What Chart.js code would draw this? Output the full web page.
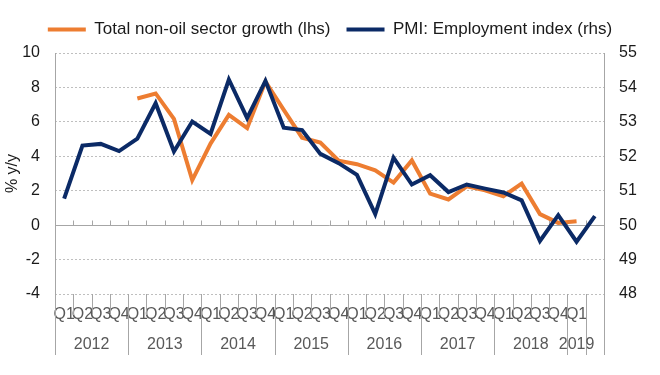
<!DOCTYPE html>
<html>
<head>
<meta charset="utf-8">
<script src="https://cdn.jsdelivr.net/npm/chart.js@4.4.1/dist/chart.umd.min.js"></script>
<style>
  html, body { margin: 0; padding: 0; background: #fff; }
  #wrap { width: 660px; height: 375px; }
</style>
</head>
<body>
<div id="wrap"><canvas id="chart"></canvas></div>
<script>
// Categories: quarters 2012 Q1 .. 2019 Q2 (last one has no label)
const quarters = [
  'Q1', 'Q2', 'Q3', 'Q4', 'Q1', 'Q2', 'Q3', 'Q4',
  'Q1', 'Q2', 'Q3', 'Q4', 'Q1', 'Q2', 'Q3', 'Q4',
  'Q1', 'Q2', 'Q3', 'Q4', 'Q1', 'Q2', 'Q3', 'Q4',
  'Q1', 'Q2', 'Q3', 'Q4', 'Q1', ''
];
const years = ['2012', '2013', '2014', '2015', '2016', '2017', '2018', '2019'];
const quartersPerYear = [4, 4, 4, 4, 4, 4, 4, 1];

// Total non-oil sector growth, % y/y (lhs)
const nonOilGrowth = [
  null, null, null, null,
  7.36, 7.65, 6.17, 2.62,
  4.74, 6.40, 5.63, 8.34,
  6.70, 5.08, 4.80, 3.74,
  3.54, 3.18, 2.47, 3.76,
  1.83, 1.49, 2.25, 2.02,
  1.68, 2.41, 0.64, 0.13,
  0.23, null
];

// PMI: Employment index (rhs)
const pmiEmployment = [
  50.77, 52.31, 52.36, 52.15,
  52.51, 53.54, 52.14, 53.01,
  52.65, 54.23, 53.11, 54.19,
  52.83, 52.76, 52.07, 51.80,
  51.46, 50.32, 51.96, 51.18,
  51.45, 50.96, 51.18, 51.06,
  50.95, 50.72, 49.54, 50.29,
  49.52, 50.26
];

const leftRange = [-4, 10];
const rightRange = [48, 55];

const orange = '#ED7D31';
const navy = '#0B2A66';
const axisGrey = '#A6A6A6';
const textDark = '#1a1a1a';
const textGrey = '#595959';
const fontFamily = '"Liberation Sans", Arial, sans-serif';

// a bit more room under the legend
const legendSpacer = {
  id: 'legendSpacer',
  beforeInit(chart) {
    const fit = chart.legend.fit;
    chart.legend.fit = function () { fit.call(this); this.height += 5; };
  }
};

// zero line, axis lines, multi-level category separators and year labels
const axisFrame = {
  id: 'axisFrame',
  beforeDatasetsDraw(chart) {
    const {ctx, chartArea: a, scales: {x, y}} = chart;
    const w = x.getPixelForValue(1) - x.getPixelForValue(0);
    const edge = k => Math.round(x.getPixelForValue(k) - w / 2) + 0.5;
    const y0 = Math.round(y.getPixelForValue(0)) + 0.5;
    const bottom = 355;

    ctx.save();
    ctx.strokeStyle = axisGrey;
    ctx.lineWidth = 1;
    ctx.beginPath();
    ctx.moveTo(a.left, y0);
    ctx.lineTo(a.right, y0);
    for (let k = 1; k < quarters.length; k++) {
      ctx.moveTo(edge(k), y0);
      ctx.lineTo(edge(k), y0 - 5);
    }
    const lx = Math.round(a.left) + 0.5, rx = Math.round(a.right) + 0.5;
    ctx.moveTo(lx, a.top);
    ctx.lineTo(lx, bottom);
    ctx.moveTo(rx, a.top);
    ctx.lineTo(rx, bottom);

    let idx = 0;
    quartersPerYear.forEach(n => {
      for (let j = 1; j <= n; j++) {
        idx++;
        const bx = edge(idx);
        ctx.moveTo(bx, a.bottom);
        ctx.lineTo(bx, j === n ? bottom : a.bottom + 21);
      }
    });
    ctx.stroke();

    ctx.fillStyle = textGrey;
    ctx.font = '16px ' + fontFamily;
    ctx.textAlign = 'center';
    ctx.textBaseline = 'middle';
    let start = 0;
    years.forEach((yr, i) => {
      const n = quartersPerYear[i];
      ctx.fillText(yr, x.getPixelForValue(start + (n - 1) / 2), 345);
      start += n;
    });
    ctx.restore();
  }
};

new Chart(document.getElementById('chart'), {
  type: 'line',
  data: {
    labels: quarters,
    datasets: [{
      label: 'Total non-oil sector growth (lhs)',
      data: nonOilGrowth,
      yAxisID: 'y',
      borderColor: orange,
      backgroundColor: orange,
      borderWidth: 4,
      pointRadius: 0,
      order: 1
    }, {
      label: 'PMI: Employment index (rhs)',
      data: pmiEmployment,
      yAxisID: 'y2',
      borderColor: navy,
      backgroundColor: navy,
      borderWidth: 4,
      pointRadius: 0,
      order: 0
    }]
  },
  options: {
    responsive: true,
    maintainAspectRatio: false,
    animation: false,
    devicePixelRatio: 1,
    layout: { padding: { top: 5, left: 0, right: 0, bottom: 0 } },
    plugins: {
      tooltip: { enabled: false },
      legend: {
        position: 'top',
        labels: {
          usePointStyle: true,
          pointStyle: 'line',
          pointStyleWidth: 38,
          padding: 16,
          color: textDark,
          font: { family: fontFamily, size: 17 },
          sort: (a, b) => a.datasetIndex - b.datasetIndex
        }
      }
    },
    scales: {
      x: {
        offset: true,
        grid: { display: false },
        border: { display: false },
        ticks: {
          autoSkip: false,
          maxRotation: 0,
          minRotation: 0,
          padding: 3,
          color: textGrey,
          font: { family: fontFamily, size: 16 }
        },
        afterFit: s => { s.height = 81; }
      },
      y: {
        position: 'left',
        min: leftRange[0],
        max: leftRange[1],
        ticks: {
          stepSize: 2,
          padding: 15,
          color: textDark,
          font: { family: fontFamily, size: 16 }
        },
        grid: {
          drawTicks: false,
          color: c => (c.tick && c.tick.value === 0) ? 'rgba(0,0,0,0)' : '#BFBFBF'
        },
        border: { display: false, dash: [2, 2] },
        title: {
          display: true,
          text: '% y/y',
          color: textDark,
          padding: { top: 3, bottom: 0 },
          font: { family: fontFamily, size: 16 }
        },
        afterFit: s => { s.width = 55; }
      },
      y2: {
        position: 'right',
        min: rightRange[0],
        max: rightRange[1],
        ticks: {
          stepSize: 1,
          padding: 15,
          color: textDark,
          font: { family: fontFamily, size: 16 }
        },
        grid: { display: false, drawTicks: false },
        border: { display: false },
        afterFit: s => { s.width = 56; }
      }
    }
  },
  plugins: [legendSpacer, axisFrame]
});
</script>
</body>
</html>
